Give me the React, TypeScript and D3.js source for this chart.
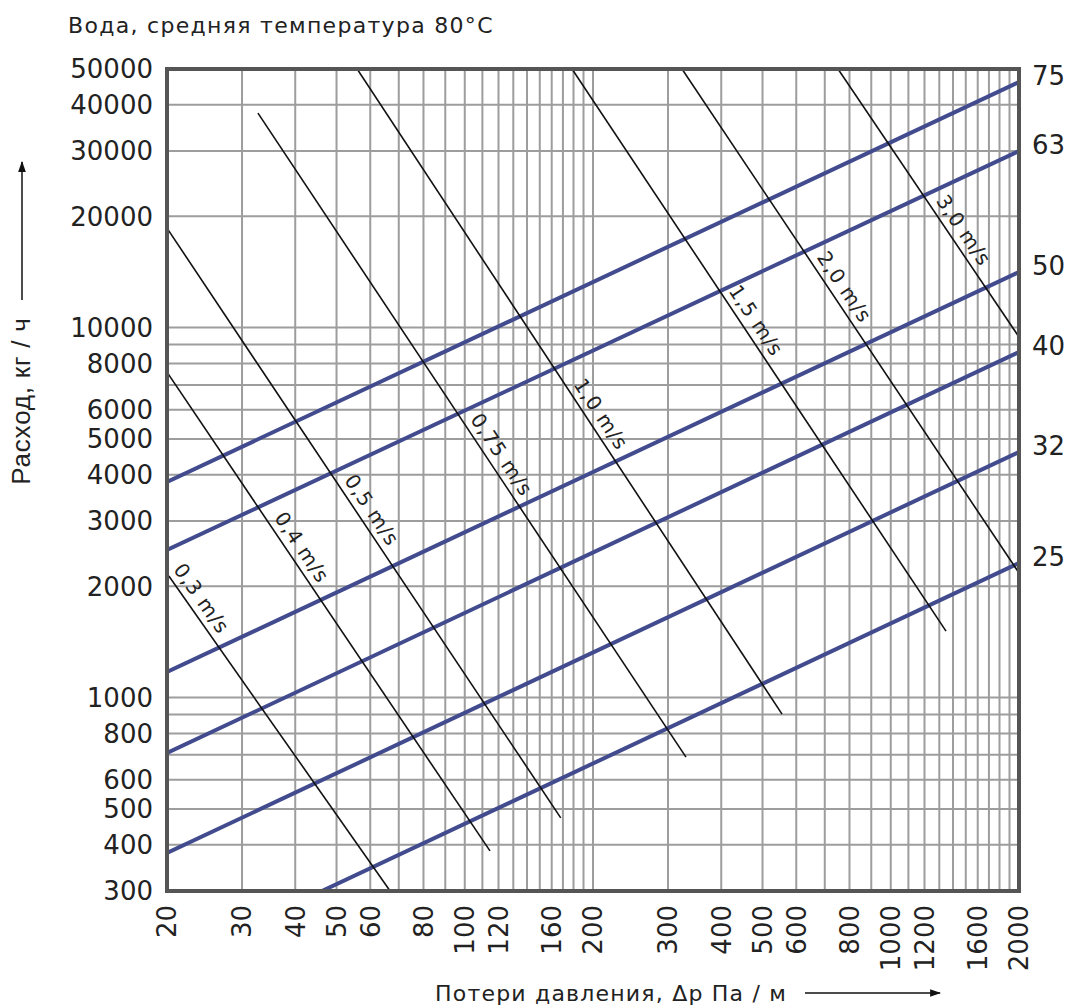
import React, { useEffect, useRef } from "react";
import * as d3 from "d3";

// pressure loss, Pa/m (x) and flow, kg/h (y)
const xTicks = [20, 30, 40, 50, 60, 80, 100, 120, 160, 200, 300, 400, 500, 600, 800, 1000, 1200, 1600, 2000];
const yTicks = [300, 400, 500, 600, 800, 1000, 2000, 3000, 4000, 5000, 6000, 8000, 10000, 20000, 30000, 40000, 50000];
const xGrid = [...d3.range(20, 200, 10), ...d3.range(200, 2001, 100)];
const yGrid = [...d3.range(300, 1000, 100), ...d3.range(1000, 10000, 1000), ...d3.range(10000, 50001, 10000)];

// pipe sizes (blue lines): start point and end point [dp, flow]
const pipeNames = ["75", "63", "50", "40", "32", "25"];
const pipeStart = [[20, 3825], [20, 2505], [20, 1172], [20, 708], [20, 380], [46.2, 300]];
const pipeEnd = [[2000, 46100], [2000, 30000], [2000, 14130], [2000, 8590], [2000, 4610], [2000, 2310]];

// velocity lines (black)
const velNames = ["0,3 m/s", "0,4 m/s", "0,5 m/s", "0,75 m/s", "1,0 m/s", "1,5 m/s", "2,0 m/s", "3,0 m/s"];
const velStart = [[20.2, 2130], [20, 7580], [20, 18570], [32.7, 37980], [55.9, 50000], [178.6, 50000], [323.6, 50000], [752, 50000]];
const velEnd = [[66.8, 300], [114.6, 385], [168, 473], [330.6, 690], [555.6, 902], [1348, 1512], [2000, 2171], [2000, 9430]];
const velLabelDp = [20, 34.5, 50.4, 99.6, 174, 402, 648, 1234];

const W = 1068;
const H = 1008;
const left = 167, right = 1019, top = 69, bottom = 891;
const numFont = "DejaVu Sans, sans-serif";

export default function App() {
  const ref = useRef<SVGSVGElement>(null);

  useEffect(() => {
    const svg = d3.select(ref.current);
    svg.selectAll("*").remove();

    const x = d3.scaleLog().domain([20, 2000]).range([left, right]);
    const y = d3.scaleLog().domain([300, 50000]).range([bottom, top]);

    const defs = svg.append("defs");
    defs.append("clipPath").attr("id", "plot")
      .append("rect").attr("x", left).attr("y", top).attr("width", right - left).attr("height", bottom - top);
    defs.append("marker").attr("id", "arr").attr("viewBox", "0 0 10 10").attr("refX", 9).attr("refY", 5)
      .attr("markerWidth", 11).attr("markerHeight", 11).attr("markerUnits", "userSpaceOnUse").attr("orient", "auto")
      .append("path").attr("d", "M0,1.5L10,5L0,8.5Z").attr("fill", "#111");

    // grid
    const grid = svg.append("g").attr("stroke", "#9d9d9d").attr("stroke-width", 2);
    grid.selectAll(".gx").data(xGrid).enter().append("line")
      .attr("x1", (d) => x(d)).attr("x2", (d) => x(d)).attr("y1", top).attr("y2", bottom);
    grid.selectAll(".gy").data(yGrid).enter().append("line")
      .attr("y1", (d) => y(d)).attr("y2", (d) => y(d)).attr("x1", left).attr("x2", right);

    const plot = svg.append("g").attr("clip-path", "url(#plot)");

    // pipe lines
    plot.selectAll(".pipe").data(pipeNames).enter().append("line")
      .attr("x1", (d, i) => x(pipeStart[i][0])).attr("y1", (d, i) => y(pipeStart[i][1]))
      .attr("x2", (d, i) => x(pipeEnd[i][0])).attr("y2", (d, i) => y(pipeEnd[i][1]))
      .attr("stroke", "#414b8e").attr("stroke-width", 4);

    // velocity lines
    plot.selectAll(".vel").data(velNames).enter().append("line")
      .attr("x1", (d, i) => x(velStart[i][0])).attr("y1", (d, i) => y(velStart[i][1]))
      .attr("x2", (d, i) => x(velEnd[i][0])).attr("y2", (d, i) => y(velEnd[i][1]))
      .attr("stroke", "#111").attr("stroke-width", 1.6);

    // velocity labels
    velNames.forEach((name, i) => {
      const x1 = x(velStart[i][0]), y1 = y(velStart[i][1]);
      const x2 = x(velEnd[i][0]), y2 = y(velEnd[i][1]);
      const ang = Math.atan2(y2 - y1, x2 - x1);
      const px = x(velLabelDp[i]);
      const py = y1 + ((px - x1) * (y2 - y1)) / (x2 - x1);
      const off = 7;
      const lx = px + Math.sin(ang) * off;
      const ly = py - Math.cos(ang) * off;
      svg.append("text").attr("x", lx).attr("y", ly)
        .attr("transform", `rotate(${(ang * 180) / Math.PI},${lx},${ly})`)
        .attr("font-family", numFont).attr("font-size", 20).attr("letter-spacing", 0.8).attr("fill", "#222")
        .text(name);
    });

    // frame
    svg.append("rect").attr("x", left).attr("y", top).attr("width", right - left).attr("height", bottom - top)
      .attr("fill", "none").attr("stroke", "#555").attr("stroke-width", 4);

    // y tick labels
    svg.selectAll(".yl").data(yTicks).enter().append("text")
      .attr("x", 153).attr("y", (d) => y(d)).attr("dy", "0.36em").attr("text-anchor", "end")
      .attr("font-family", numFont).attr("font-size", 26).attr("fill", "#222")
      .text((d) => String(d));

    // x tick labels
    svg.selectAll(".xl").data(xTicks).enter().append("text")
      .attr("transform", (d) => `translate(${x(d)},905) rotate(-90)`)
      .attr("dy", "0.36em").attr("text-anchor", "end")
      .attr("font-family", numFont).attr("font-size", 26).attr("fill", "#222")
      .text((d) => String(d));

    // pipe size labels
    svg.selectAll(".pl").data(pipeNames).enter().append("text")
      .attr("x", 1032).attr("y", (d, i) => y(pipeEnd[i][1]) - 6).attr("dy", "0.36em")
      .attr("font-family", numFont).attr("font-size", 26).attr("fill", "#222")
      .text((d) => d);

    // titles
    svg.append("text").attr("x", 68).attr("y", 33)
      .attr("font-family", numFont).attr("font-size", 22).attr("letter-spacing", 1.3).attr("fill", "#222")
      .text("Вода, средняя температура 80°C");

    svg.append("text").attr("x", 435).attr("y", 1001)
      .attr("font-family", numFont).attr("font-size", 22).attr("letter-spacing", 1.2).attr("fill", "#222")
      .text("Потери давления,  Δp Па / м");
    svg.append("line").attr("x1", 805).attr("x2", 940).attr("y1", 993).attr("y2", 993)
      .attr("stroke", "#111").attr("stroke-width", 1.5).attr("marker-end", "url(#arr)");

    svg.append("text").attr("transform", "translate(30,401) rotate(-90)")
      .attr("text-anchor", "middle")
      .attr("font-family", "Liberation Sans Narrow, Liberation Sans, sans-serif").attr("font-size", 26)
      .attr("letter-spacing", 0.8).attr("fill", "#222")
      .text("Расход,  кг / ч");
    svg.append("line").attr("x1", 22).attr("x2", 22).attr("y1", 300).attr("y2", 162)
      .attr("stroke", "#111").attr("stroke-width", 1.5).attr("marker-end", "url(#arr)");
  }, []);

  return (
    <svg ref={ref} width={W} height={H} style={{ position: "absolute", left: 0, top: 0, background: "#fff" }} />
  );
}
